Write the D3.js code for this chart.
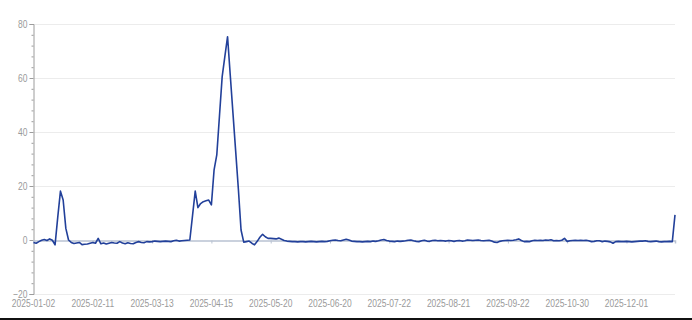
<!DOCTYPE html>
<html>
<head>
<meta charset="utf-8">
<script src="https://cdn.jsdelivr.net/npm/d3@7"></script>
<style>
    html, body { margin: 0; padding: 0; background: #fff; }
    #chart-area { width: 692px; height: 320px; }
    .tick-label { font-family: "Liberation Sans", Arial, sans-serif; font-size: 11px; fill: #9a9a9a; }
</style>
</head>
<body>
<div id="chart-area"></div>
<script>
// =====================================================
// Daily series, 2025 trading days
// =====================================================

const dates = [
    '2025-01-02','2025-01-03','2025-01-06','2025-01-07','2025-01-08','2025-01-09','2025-01-10','2025-01-13','2025-01-14','2025-01-15',
    '2025-01-16','2025-01-17','2025-01-20','2025-01-21','2025-01-22','2025-01-23','2025-01-24','2025-01-27',
    '2025-02-05','2025-02-06','2025-02-07','2025-02-10','2025-02-11','2025-02-12','2025-02-13','2025-02-14','2025-02-17','2025-02-18',
    '2025-02-19','2025-02-20','2025-02-21','2025-02-24','2025-02-25','2025-02-26','2025-02-27','2025-02-28',
    '2025-03-03','2025-03-04','2025-03-05','2025-03-06','2025-03-07','2025-03-10','2025-03-11','2025-03-12','2025-03-13','2025-03-14',
    '2025-03-17','2025-03-18','2025-03-19','2025-03-20','2025-03-21','2025-03-24','2025-03-25','2025-03-26','2025-03-27','2025-03-28','2025-03-31',
    '2025-04-01','2025-04-02','2025-04-03','2025-04-07','2025-04-08','2025-04-09','2025-04-10','2025-04-11','2025-04-14','2025-04-15',
    '2025-04-16','2025-04-17','2025-04-18','2025-04-21','2025-04-22','2025-04-23','2025-04-24','2025-04-25','2025-04-28','2025-04-29','2025-04-30',
    '2025-05-06','2025-05-07','2025-05-08','2025-05-09','2025-05-12','2025-05-13','2025-05-14','2025-05-15','2025-05-16','2025-05-19',
    '2025-05-20','2025-05-21','2025-05-22','2025-05-23','2025-05-26','2025-05-27','2025-05-28','2025-05-29','2025-05-30',
    '2025-06-03','2025-06-04','2025-06-05','2025-06-06','2025-06-09','2025-06-10','2025-06-11','2025-06-12','2025-06-13','2025-06-16',
    '2025-06-17','2025-06-18','2025-06-19','2025-06-20','2025-06-23','2025-06-24','2025-06-25','2025-06-26','2025-06-27','2025-06-30',
    '2025-07-01','2025-07-02','2025-07-03','2025-07-04','2025-07-07','2025-07-08','2025-07-09','2025-07-10','2025-07-11','2025-07-14',
    '2025-07-15','2025-07-16','2025-07-17','2025-07-18','2025-07-21','2025-07-22','2025-07-23','2025-07-24','2025-07-25','2025-07-28',
    '2025-07-29','2025-07-30','2025-07-31',
    '2025-08-01','2025-08-04','2025-08-05','2025-08-06','2025-08-07','2025-08-08','2025-08-11','2025-08-12','2025-08-13','2025-08-14',
    '2025-08-15','2025-08-18','2025-08-19','2025-08-20','2025-08-21','2025-08-22','2025-08-25','2025-08-26','2025-08-27','2025-08-28','2025-08-29',
    '2025-09-01','2025-09-02','2025-09-03','2025-09-04','2025-09-05','2025-09-08','2025-09-09','2025-09-10','2025-09-11','2025-09-12',
    '2025-09-15','2025-09-16','2025-09-17','2025-09-18','2025-09-19','2025-09-22','2025-09-23','2025-09-24','2025-09-25','2025-09-26',
    '2025-09-29','2025-09-30',
    '2025-10-09','2025-10-10','2025-10-13','2025-10-14','2025-10-15','2025-10-16','2025-10-17','2025-10-20','2025-10-21','2025-10-22',
    '2025-10-23','2025-10-24','2025-10-27','2025-10-28','2025-10-29','2025-10-30','2025-10-31',
    '2025-11-03','2025-11-04','2025-11-05','2025-11-06','2025-11-07','2025-11-10','2025-11-11','2025-11-12','2025-11-13','2025-11-14',
    '2025-11-17','2025-11-18','2025-11-19','2025-11-20','2025-11-21','2025-11-24','2025-11-25','2025-11-26','2025-11-27','2025-11-28',
    '2025-12-01','2025-12-02','2025-12-03','2025-12-04','2025-12-05','2025-12-08','2025-12-09','2025-12-10','2025-12-11','2025-12-12',
    '2025-12-15','2025-12-16','2025-12-17','2025-12-18','2025-12-19','2025-12-22','2025-12-23','2025-12-24','2025-12-25'
];

const values = [
    -0.9, -1.2, -0.6, -0.1, 0.2, -0.2, 0.4, -0.1, -1.8, 8.5,
    18.1, 14.8, 4.3, 0, -0.9, -1.3, -1.1, -0.9, -1.7, -1.6,
    -1.5, -1.2, -0.9, -1.2, 0.6, -1.4, -1.1, -1.5, -1.2, -0.9,
    -1.1, -1.2, -0.6, -1.1, -1.4, -1.0, -1.3, -1.4, -0.9, -0.6,
    -0.9, -1.0, -0.6, -0.7, -0.6, -0.4, -0.5, -0.6, -0.5, -0.4,
    -0.5, -0.6, -0.3, -0.1, -0.4, -0.3, -0.2, -0.1, 0, 9,
    18.1, 12, 13.5, 14.2, 14.5, 14.8, 13, 26, 31.5, 46,
    60.5, 68, 75.3, 61, 47, 33, 19, 3.7, -0.8, -0.6,
    -0.4, -1.2, -1.8, -0.5, 1.0, 2.1, 1.2, 0.6, 0.6, 0.5,
    0.4, 0.7, 0.3, -0.2, -0.4, -0.5, -0.6, -0.6, -0.7, -0.6,
    -0.6, -0.7, -0.6, -0.5, -0.6, -0.7, -0.6, -0.5, -0.6, -0.5,
    -0.3, -0.1, 0.0, -0.2, -0.3, 0.0, 0.3, 0.0, -0.4, -0.5,
    -0.6, -0.6, -0.7, -0.6, -0.5, -0.6, -0.4, -0.5, -0.3, 0.0,
    0.2, -0.2, -0.4, -0.5, -0.6, -0.4, -0.5, -0.4, -0.3, -0.1,
    0.0, -0.3, -0.5, -0.6, -0.3, -0.1, -0.4, -0.5, -0.2, -0.1,
    -0.3, -0.2, -0.3, -0.4, -0.2, -0.3, -0.5, -0.3, -0.2, -0.4,
    -0.3, 0.0, -0.1, -0.2, -0.1, 0.0, -0.2, -0.3, -0.2, -0.1,
    -0.4, -0.8, -0.9, -0.5, -0.3, -0.2, -0.1, -0.2, -0.1, 0.1,
    0.4, -0.2, -0.6, -0.5, -0.6, -0.3, -0.1, -0.2, -0.1, -0.2,
    0.0, -0.1, 0.1, -0.3, -0.2, -0.3, -0.1, 0.6, -0.5, -0.3,
    -0.2, -0.1, -0.2, -0.1, -0.2, -0.1, -0.3, -0.6, -0.5, -0.3,
    -0.3, -0.6, -0.4, -0.5, -0.7, -1.2, -0.6, -0.5, -0.6, -0.6,
    -0.5, -0.6, -0.7, -0.6, -0.5, -0.4, -0.4, -0.3, -0.5, -0.6,
    -0.5, -0.4, -0.6, -0.7, -0.6, -0.6, -0.5, -0.6, 9.3
];

const xTickLabels = ['2025-01-02', '2025-02-11', '2025-03-13', '2025-04-15', '2025-05-20', '2025-06-20',
    '2025-07-22', '2025-08-21', '2025-09-22', '2025-10-30', '2025-12-01'];
const yTicks = [-20, 0, 20, 40, 60, 80];

// the reference text is horizontally squeezed, so narrow each label
function squeeze(selection) {
    selection.each(function() {
        const w = this.getComputedTextLength();
        d3.select(this)
            .attr('textLength', w * 0.77)
            .attr('lengthAdjust', 'spacingAndGlyphs');
    });
}

function drawChart() {
    const width = 692;
    const height = 320;
    const margin = { top: 24, right: 17, bottom: 26, left: 33.5 };

    const svg = d3.select('#chart-area')
        .append('svg')
        .attr('width', width)
        .attr('height', height);

    const data = dates.map((d, i) => ({ date: d, value: values[i] }));

    const x = d3.scalePoint()
        .domain(dates)
        .range([margin.left, width - margin.right]);

    const y = d3.scaleLinear()
        .domain([-20, 80])
        .range([height - margin.bottom, margin.top]);

    // horizontal grid lines
    svg.append('g')
        .selectAll('line')
        .data(yTicks.filter(t => t !== 0))
        .enter()
        .append('line')
        .attr('x1', margin.left)
        .attr('x2', width - margin.right)
        .attr('y1', d => Math.round(y(d)) + 0.5)
        .attr('y2', d => Math.round(y(d)) + 0.5)
        .attr('stroke', '#ececec')
        .attr('stroke-width', 1);

    // y axis with minor ticks every 4
    const yAxis = d3.axisLeft(y)
        .tickValues(yTicks)
        .tickSize(4)
        .tickPadding(2);

    const yg = svg.append('g')
        .attr('transform', `translate(${margin.left},0)`)
        .call(yAxis);
    yg.select('.domain').attr('stroke', '#9c9c9c');
    yg.selectAll('.tick line').attr('stroke', '#9c9c9c');
    yg.selectAll('.tick text')
        .attr('class', 'tick-label')
        .call(squeeze);

    yg.append('g')
        .selectAll('line')
        .data(d3.range(-20, 81, 4).filter(v => v % 20 !== 0))
        .enter()
        .append('line')
        .attr('x1', -2)
        .attr('x2', 0)
        .attr('y1', d => y(d) + 0.5)
        .attr('y2', d => y(d) + 0.5)
        .attr('stroke', '#9c9c9c');

    // x axis line sits on zero
    const xAxis = d3.axisBottom(x)
        .tickValues(xTickLabels)
        .tickSize(3)
        .tickFormat('');

    const xg = svg.append('g')
        .attr('transform', `translate(0,${Math.round(y(0)) + 0.5})`)
        .call(xAxis);
    xg.select('.domain').attr('stroke', '#b9c2d2').attr('stroke-width', 1.5);
    xg.selectAll('.tick line').attr('stroke', '#b9c2d2');

    // x labels at bottom of the grid
    svg.append('g')
        .selectAll('text')
        .data(xTickLabels)
        .enter()
        .append('text')
        .attr('class', 'tick-label')
        .attr('x', d => x(d))
        .attr('y', height - margin.bottom + 9)
        .attr('dy', '0.35em')
        .attr('text-anchor', 'middle')
        .text(d => d)
        .call(squeeze);

    const line = d3.line()
        .x(d => x(d.date))
        .y(d => y(d.value));

    svg.append('path')
        .datum(data)
        .attr('d', line)
        .attr('fill', 'none')
        .attr('stroke', '#22409a')
        .attr('stroke-width', 1.6)
        .attr('stroke-linejoin', 'round');

    // dark rule along the bottom edge
    svg.append('rect')
        .attr('x', 0)
        .attr('y', height - 2)
        .attr('width', width)
        .attr('height', 2)
        .attr('fill', '#111');
}

drawChart();
</script>
</body>
</html>
